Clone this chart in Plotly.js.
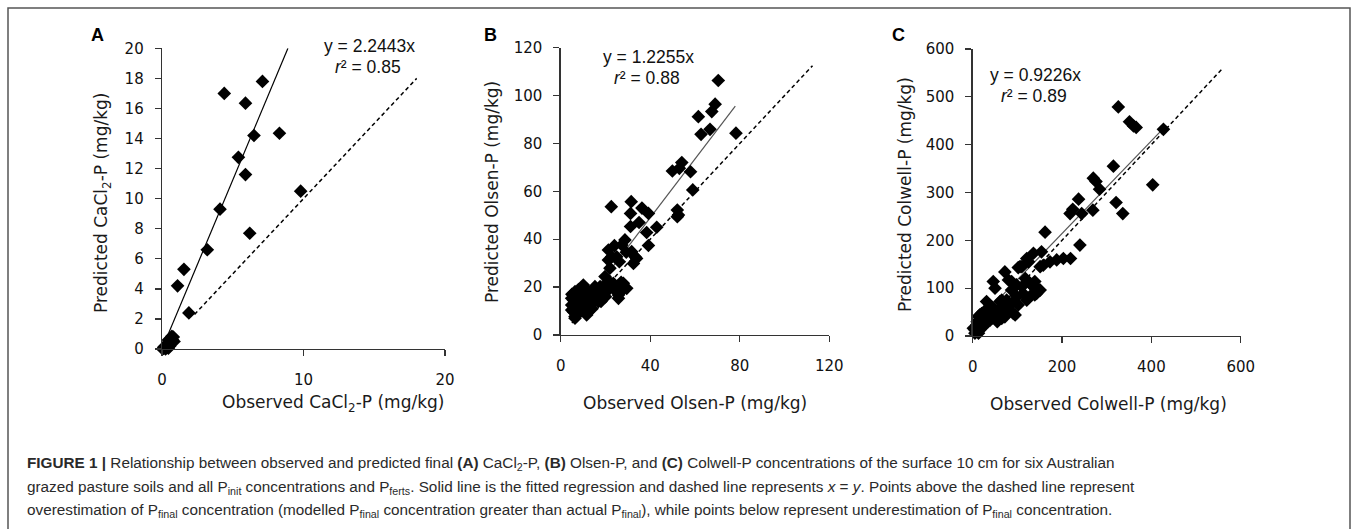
<!DOCTYPE html>
<html>
<head>
<meta charset="utf-8">
<script src="https://cdn.plot.ly/plotly-3.0.1.min.js"></script>
<style>html,body{margin:0;padding:0;background:#fff;}#chart{width:1357px;height:529px;}</style>
</head>
<body>
<div id="chart"></div>
<script>
// ---------- Panel A: CaCl2-P ----------
const aObserved = [4.4, 7.1, 5.9, 6.5, 8.3, 5.4, 5.9, 9.8, 4.1, 6.2, 3.2, 1.55, 1.1, 1.9,
  0.05, 0.1, 0.2, 0.25, 0.3, 0.35, 0.4, 0.45, 0.5, 0.55, 0.6, 0.65, 0.7, 0.75, 0.8, 0.85, 0.45, 0.15];
const aPredicted = [17.0, 17.8, 16.35, 14.2, 14.35, 12.75, 11.6, 10.5, 9.3, 7.7, 6.6, 5.3, 4.2, 2.4,
  0.0, 0.05, 0.1, 0.0, 0.2, 0.1, 0.3, 0.05, 0.5, 0.2, 0.7, 0.4, 0.85, 0.6, 0.8, 0.5, 0.6, 0.15];
const aFitX = [0, 8.9], aFitY = [0, 20];
const aOneX = [2.3, 18], aOneY = [2.3, 18];

// ---------- Panel B: Olsen-P ----------
const bObserved = [70.4, 69, 67.5, 61.5, 66.7, 62.7, 78.3,
  49.9, 54.1, 53, 58, 59, 52.1, 52.6, 52.1,
  22.6, 31.5, 31.2, 36.3, 39.2, 42.9, 38.4, 39.2, 35, 31.2, 28.7, 27.3, 24, 21.3, 22.8, 22, 29.3, 31.7, 33.9, 33.2, 32.5, 26.2, 25, 21.3,
  23.5, 26.2, 27.7, 25.8, 21.3, 17.6, 15.3, 14.6, 13.1, 10.1, 10.1, 8.6, 6.4, 5.7, 4.9, 6.4, 11.6, 7.9, 4.9, 7.1, 11.6, 19.1, 19.8, 29.5, 28, 16.8, 5.7, 12.4, 10.9, 8.6, 4.9, 6.4, 17.6, 25.8,
  9, 7, 13, 15, 20, 24, 18, 8, 6, 12, 22, 27, 5, 10, 14];
const bPredicted = [106.3, 96.4, 93.3, 91.2, 85.9, 83.8, 84.3,
  68.5, 72, 69.6, 68.2, 60.6, 52.2, 50.1, 49.4,
  53.6, 55.7, 50.8, 53, 50.8, 45, 42.8, 37.4, 47, 45.3, 39.7, 37.6, 37.3, 35.5, 32.7, 27.9, 34.6, 34.8, 32, 32.7, 29.9, 30.6, 32.7, 31.3,
  21.6, 20.9, 18.8, 15.3, 18.8, 17.4, 20.2, 14.6, 12.5, 13.9, 20.9, 17.4, 18.1, 14.6, 10.4, 7, 8.4, 11.8, 12.5, 15.3, 18.8, 20.2, 24.4, 19.5, 21.6, 13.9, 9.7, 9.7, 12.5, 13.9, 15.3, 7.7, 20.2, 16.7,
  10, 9, 16, 17, 16, 19, 14, 19, 12, 17, 22, 22, 17, 16, 11];
const bFitX = [5, 78], bFitY = [6.1, 95.6];
const bOneX = [5, 112.5], bOneY = [5, 112.5];

// ---------- Panel C: Colwell-P ----------
const cObserved = [326, 351, 360, 366, 427, 315, 270, 276, 284, 269, 321, 336, 403, 237, 218, 244, 224, 240, 162,
  219, 203, 188, 173, 158, 151, 136, 154, 125, 110, 102, 72, 80, 46, 50, 87, 99, 110, 128, 136, 143, 132, 151,
  91, 76, 61, 31, 46, 61, 76, 102, 113, 121, 16, 24, 9, 5, 13, 24, 39, 35, 50, 69, 5, 16, 121, 106, 87, 98, 139, 139,
  42, 65, 95, 58, 13, 20, 1.4, 35, 65, 72, 10, 20, 28, 55, 45, 80, 90, 30, 8, 118, 145];
const cPredicted = [479, 448, 439, 436, 432, 355, 330, 323, 307, 263, 279, 256, 316, 286, 256, 256, 265, 190, 217,
  162, 162, 159, 155, 148, 145, 173, 176, 155, 145, 143, 134, 117, 114, 100, 96, 82, 103, 110, 103, 89, 86, 96,
  47, 61, 72, 72, 58, 40, 75, 65, 89, 75, 44, 33, 23, 13, 6, 20, 33, 47, 47, 51, 6, 13, 162, 145, 114, 107, 114, 86,
  61, 75, 44, 54, 41, 47, 16, 37, 37, 40, 30, 25, 40, 30, 38, 55, 70, 55, 18, 120, 100];
const cFitX = [20, 427], cFitY = [40, 434];
const cOneX = [5, 560], cOneY = [5, 560];

// ---------- Axis ticks ----------
const aTicksX = [0, 10, 20], aTicksY = [0, 2, 4, 6, 8, 10, 12, 14, 16, 18, 20];
const bTicksX = [0, 40, 80, 120], bTicksY = [0, 20, 40, 60, 80, 100, 120];
const cTicksX = [0, 200, 400, 600], cTicksY = [0, 100, 200, 300, 400, 500, 600];

const W = 1357, H = 529;
const px = v => v / W, py = v => 1 - v / H;

function scatter(x, y, xa, ya) {
  return {x, y, xaxis: xa, yaxis: ya, type: 'scatter', mode: 'markers', cliponaxis: false,
    marker: {symbol: 'diamond', size: 10.5, color: '#000'}, hoverinfo: 'skip'};
}
function line(x, y, xa, ya, color, dash, width) {
  return {x, y, xaxis: xa, yaxis: ya, type: 'scatter', mode: 'lines', cliponaxis: false,
    line: {color, dash, width}, hoverinfo: 'skip'};
}
const traces = [
  line(aOneX, aOneY, 'x', 'y', '#000', '4px,3px', 1.5),
  line(aFitX, aFitY, 'x', 'y', '#000', 'solid', 1.2),
  scatter(aObserved, aPredicted, 'x', 'y'),
  line(bOneX, bOneY, 'x2', 'y2', '#000', '4px,3px', 1.5),
  line(bFitX, bFitY, 'x2', 'y2', '#555', 'solid', 1.2),
  scatter(bObserved, bPredicted, 'x2', 'y2'),
  line(cOneX, cOneY, 'x3', 'y3', '#000', '4px,3px', 1.5),
  line(cFitX, cFitY, 'x3', 'y3', '#555', 'solid', 1.2),
  scatter(cObserved, cPredicted, 'x3', 'y3')
];

const tickFont = {family: 'DejaVu Sans, Verdana, sans-serif', size: 15, color: '#111'};
function xAxis(x0, x1, range, ticks, anchor) {
  return {domain: [px(x0), px(x1)], range, tickmode: 'array', tickvals: ticks, anchor,
    showline: true, linecolor: '#333', linewidth: 1.3, ticks: 'outside', ticklen: 6, tickwidth: 1.3, tickcolor: '#333',
    showgrid: false, zeroline: false, tickfont: tickFont, ticklabelstandoff: 11, fixedrange: true};
}
function yAxis(y0, y1, range, ticks, anchor) {
  return {domain: [py(y0), py(y1)], range, tickmode: 'array', tickvals: ticks, anchor,
    showline: true, linecolor: '#333', linewidth: 1.3, ticks: 'outside', ticklen: 6, tickwidth: 1.3, tickcolor: '#333',
    showgrid: false, zeroline: false, tickfont: tickFont, ticklabelstandoff: 8, fixedrange: true};
}

const titleFont = {family: 'DejaVu Sans, Verdana, sans-serif', size: 17, color: '#1a1a1a'};
const eqFont = {family: 'Liberation Sans, Arial, sans-serif', size: 17.5, color: '#111'};
const letterFont = {family: 'Liberation Sans, Arial, sans-serif', size: 18, color: '#000'};
const capFont = {family: 'Liberation Sans, Arial, sans-serif', size: 15.3, color: '#2a2a2a'};

function ann(text, x, y, font, extra) {
  return Object.assign({text, x: px(x), y: py(y), xref: 'paper', yref: 'paper', showarrow: false,
    xanchor: 'center', yanchor: 'middle', font}, extra || {});
}

const capLines = [
  '<b>FIGURE 1 |</b> Relationship between observed and predicted final <b>(A)</b> CaCl<sub>2</sub>-P, <b>(B)</b> Olsen-P, and <b>(C)</b> Colwell-P concentrations of the surface 10 cm for six Australian',
  'grazed pasture soils and all P<sub>init</sub> concentrations and P<sub>ferts</sub>. Solid line is the fitted regression and dashed line represents <i>x</i> = <i>y</i>. Points above the dashed line represent',
  'overestimation of P<sub>final</sub> concentration (modelled P<sub>final</sub> concentration greater than actual P<sub>final</sub>), while points below represent underestimation of P<sub>final</sub> concentration.'
];
const capY = [463, 487, 510];

const annotations = [
  ann('<b>A</b>', 97, 35, letterFont),
  ann('<b>B</b>', 490, 35, letterFont),
  ann('<b>C</b>', 898, 35, letterFont),
  ann('y = 2.2443x', 369, 46, eqFont),
  ann('<i>r</i>² = 0.85', 368, 67, eqFont),
  ann('y = 1.2255x', 648, 57, eqFont),
  ann('<i>r</i>² = 0.88', 647, 78, eqFont),
  ann('y = 0.9226x', 1035, 75, eqFont),
  ann('<i>r</i>² = 0.89', 1034, 96, eqFont),
  ann('Observed CaCl<sub>2</sub>-P (mg/kg)', 333, 403, titleFont),
  ann('Predicted CaCl<sub>2</sub>-P (mg/kg)', 102, 203, titleFont, {textangle: -90}),
  ann('Observed Olsen-P (mg/kg)', 695, 403, titleFont),
  ann('Predicted Olsen-P (mg/kg)', 492, 192, titleFont, {textangle: -90}),
  ann('Observed Colwell-P (mg/kg)', 1108, 404, titleFont),
  ann('Predicted Colwell-P (mg/kg)', 905, 195, titleFont, {textangle: -90})
];
capLines.forEach((t, i) => annotations.push(ann(t, 25, capY[i], capFont, {xanchor: 'left', align: 'left'})));

const layout = {
  width: W, height: H, margin: {l: 0, r: 0, t: 0, b: 0}, showlegend: false,
  paper_bgcolor: '#fff', plot_bgcolor: 'rgba(0,0,0,0)',
  xaxis: xAxis(162, 445, [0, 20], aTicksX, 'y'),
  yaxis: yAxis(349, 48.3, [0, 20], aTicksY, 'x'),
  xaxis2: xAxis(560.7, 829.3, [0, 120], bTicksX, 'y2'),
  yaxis2: yAxis(335, 47.7, [0, 120], bTicksY, 'x2'),
  xaxis3: xAxis(972.7, 1240.7, [0, 600], cTicksX, 'y3'),
  yaxis3: yAxis(336, 49, [0, 600], cTicksY, 'x3'),
  annotations,
  shapes: [{type: 'rect', xref: 'paper', yref: 'paper', x0: px(8), x1: px(1350), y0: -0.2, y1: py(8),
    line: {color: '#555', width: 1.5}, fillcolor: 'rgba(0,0,0,0)'}]
};

Plotly.newPlot('chart', traces, layout, {staticPlot: true, displayModeBar: false});
</script>
</body>
</html>
